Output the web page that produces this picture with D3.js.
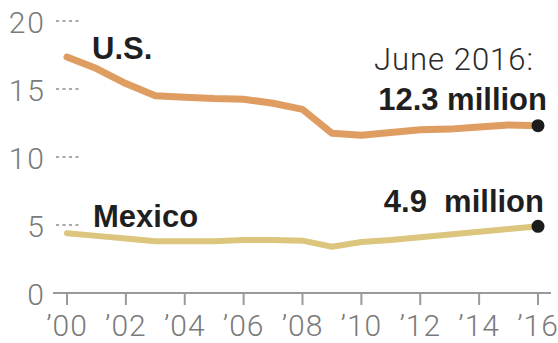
<!DOCTYPE html>
<html>
<head>
<meta charset="utf-8">
<script src="https://cdn.jsdelivr.net/npm/d3@7"></script>
<style>
  body { margin: 0; background: #fff; }
  svg text { font-family: Roboto, "Liberation Sans", sans-serif; }
  .tick-label { fill: #7a7a7a; font-weight: 300; font-size: 30px; letter-spacing: 2px; }
  .x-label { letter-spacing: 1px; }
  .lbl-bold { fill: #1f1f1f; font-family: "Liberation Sans", Arial, sans-serif; font-weight: 700; font-size: 31px; }
  .lbl-light { fill: #2a2a2a; font-weight: 300; font-size: 31px; letter-spacing: 1px; }
</style>
</head>
<body>
<script>
var years = d3.range(2000, 2017)
var usValues = [17.35, 16.5, 15.4, 14.5, 14.4, 14.3, 14.25, 13.95, 13.5, 11.75, 11.6, 11.8, 12.0, 12.05, 12.2, 12.35, 12.3]
var mexicoValues = [4.4, 4.2, 4.0, 3.8, 3.8, 3.8, 3.9, 3.9, 3.85, 3.4, 3.75, 3.9, 4.1, 4.3, 4.5, 4.7, 4.9]
var yTicks = [0, 5, 10, 15, 20]
var xTicks = [2000, 2002, 2004, 2006, 2008, 2010, 2012, 2014, 2016]

var width = 558, height = 343

var svg = d3.select('body').append('svg')
    .attr('width', width)
    .attr('height', height)

var x = d3.scaleLinear().domain([2000, 2016]).range([67, 538])
var y = d3.scaleLinear().domain([0, 20]).range([293, 21])

// y labels + little dotted leaders
yTicks.forEach(function(t){
  svg.append('text')
      .attr('class', 'tick-label')
      .attr('x', 46)
      .attr('y', y(t) + 12)
      .attr('text-anchor', 'end')
      .text(t)
  if (t > 0) {
    svg.append('line')
        .attr('x1', 56).attr('x2', 81)
        .attr('y1', y(t)).attr('y2', y(t))
        .attr('stroke', '#a8a8a8')
        .attr('stroke-width', 2)
        .attr('stroke-dasharray', '3,3.5')
  }
})

// x axis
svg.append('line')
    .attr('x1', 53).attr('x2', 551)
    .attr('y1', y(0)).attr('y2', y(0))
    .attr('stroke', '#9a9a9a')
    .attr('stroke-width', 2)

xTicks.forEach(function(t){
  svg.append('line')
      .attr('x1', x(t)).attr('x2', x(t))
      .attr('y1', y(0)).attr('y2', y(0) + 12)
      .attr('stroke', '#9a9a9a')
      .attr('stroke-width', 2)
  svg.append('text')
      .attr('class', 'tick-label x-label')
      .attr('x', x(t))
      .attr('y', 336)
      .attr('text-anchor', 'middle')
      .text('\u2019' + String(t).slice(2))
})

var line = d3.line()
    .x(function(d, i){ return x(years[i]) })
    .y(function(d){ return y(d) })

svg.append('path')
    .datum(mexicoValues)
    .attr('d', line)
    .attr('fill', 'none')
    .attr('stroke', '#dcc57c')
    .attr('stroke-width', 6)
    .attr('stroke-linejoin', 'round')
    .attr('stroke-linecap', 'round')

svg.append('path')
    .datum(usValues)
    .attr('d', line)
    .attr('fill', 'none')
    .attr('stroke', '#e09d62')
    .attr('stroke-width', 7)
    .attr('stroke-linejoin', 'round')
    .attr('stroke-linecap', 'round')

// end dots
;[usValues, mexicoValues].forEach(function(vals){
  svg.append('circle')
      .attr('cx', x(2016))
      .attr('cy', y(vals[vals.length - 1]))
      .attr('r', 6.5)
      .attr('fill', '#1c1c1c')
})

// labels
svg.append('text').attr('class', 'lbl-bold')
    .attr('x', 92).attr('y', 59).text('U.S.')
svg.append('text').attr('class', 'lbl-bold')
    .attr('x', 93).attr('y', 227).text('Mexico')

svg.append('text').attr('class', 'lbl-light')
    .attr('x', 534).attr('y', 70).attr('text-anchor', 'end')
    .text('June 2016:')
svg.append('text').attr('class', 'lbl-bold')
    .attr('x', 547).attr('y', 110).attr('text-anchor', 'end')
    .text('12.3 million')
svg.append('text').attr('class', 'lbl-bold')
    .attr('x', 544).attr('y', 212).attr('text-anchor', 'end')
    .attr('xml:space', 'preserve')
    .style('white-space', 'pre')
    .text('4.9  million')
</script>
</body>
</html>
